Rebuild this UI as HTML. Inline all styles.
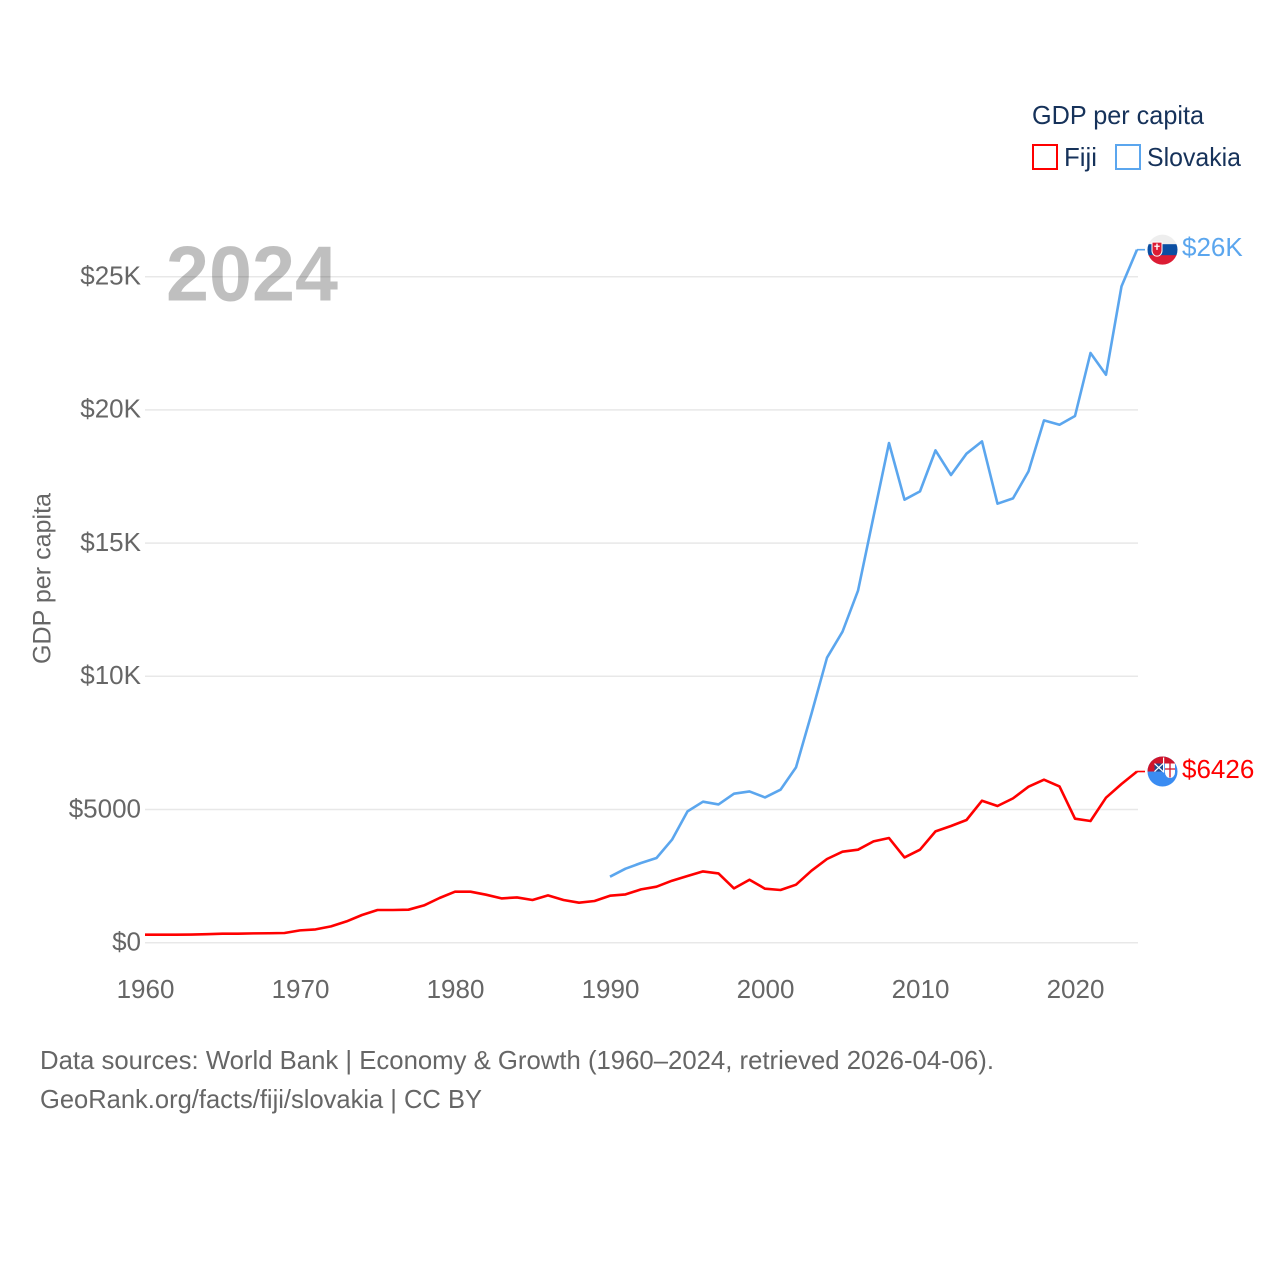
<!DOCTYPE html>
<html lang="en">
<head>
<meta charset="utf-8">
<title>GDP per capita: Fiji and Slovakia</title>
<style>
html,body{margin:0;padding:0;background:#fff;width:1280px;height:1280px;overflow:hidden}
svg{display:block}
text{font-family:"Liberation Sans",sans-serif}
</style>
</head>
<body>
<svg id="chart" xmlns="http://www.w3.org/2000/svg" width="1280" height="1280" viewBox="0 0 1280 1280">
<defs>
<clipPath id="flag-clip-slovakia"><circle id="clip-circle-slovakia" r="15"/></clipPath>
<clipPath id="flag-clip-fiji"><circle id="clip-circle-fiji" r="15"/></clipPath>
</defs>
<g id="grid"></g>
<text x="166" y="300.5" font-size="78" font-weight="700" fill="#000" fill-opacity="0.25" textLength="172" lengthAdjust="spacingAndGlyphs">2024</text>
<g id="y-ticks"></g>
<g id="x-ticks"></g>
<text transform="translate(50.5,578.5) rotate(-90)" text-anchor="middle" font-size="25" fill="#666" textLength="171" lengthAdjust="spacingAndGlyphs">GDP per capita</text>
<g id="series"></g>
<g id="end-markers"></g>

<text x="1032" y="124" font-size="26" fill="#16325a" textLength="172" lengthAdjust="spacingAndGlyphs">GDP per capita</text>
<g>
<rect x="1033" y="145" width="24" height="24" fill="#fff" stroke="#ff0000" stroke-width="2"/>
<text x="1064" y="166" font-size="26" fill="#16325a" textLength="33" lengthAdjust="spacingAndGlyphs">Fiji</text>
</g>
<g>
<rect x="1116" y="145" width="24" height="24" fill="#fff" stroke="#5ba6ee" stroke-width="2"/>
<text x="1147" y="166" font-size="26" fill="#16325a" textLength="94" lengthAdjust="spacingAndGlyphs">Slovakia</text>
</g>

<text x="40" y="1069" font-size="26" fill="#666" textLength="954" lengthAdjust="spacingAndGlyphs">Data sources: World Bank | Economy &amp; Growth (1960–2024, retrieved 2026-04-06).</text>
<text x="40" y="1108" font-size="26" fill="#666" textLength="442" lengthAdjust="spacingAndGlyphs">GeoRank.org/facts/fiji/slovakia | CC BY</text>
</svg>
<script>
const startYear = 1960;
const yTickValues = [0, 5000, 10000, 15000, 20000, 25000];
const yTickLabels = ['$0', '$5000', '$10K', '$15K', '$20K', '$25K'];
const xTickValues = [1960, 1970, 1980, 1990, 2000, 2010, 2020];
const fijiValues = [300,300,300,305,320,338,338,350,355,364,462,499,612,800,1040,1227,1227,1239,1400,1678,1914,1914,1802,1663,1700,1603,1776,1603,1502,1565,1764,1813,2001,2102,2327,2504,2676,2601,2038,2365,2027,1978,2177,2703,3142,3416,3491,3803,3930,3202,3491,4178,4381,4606,5330,5131,5417,5856,6119,5867,4655,4568,5443,5957,6426];
const slovakiaStartYear = 1990;
const slovakiaValues = [2477,2778,2992,3179,3866,4929,5293,5191,5593,5679,5454,5743,6580,8600,10698,11674,13213,15991,18757,16629,16941,18480,17556,18356,18818,16479,16678,17691,19606,19444,19771,22136,21321,24636,26014];
const fijiEndLabel = '$6426';
const slovakiaEndLabel = '$26K';

const NS = 'http://www.w3.org/2000/svg';
function xScale(year) { return 145 + (year - 1960) * 15.5; }
function yScale(value) { return 942.7 - value * 0.02664; }
function make(tag, attrs, parent) {
  const el = document.createElementNS(NS, tag);
  for (const k in attrs) el.setAttribute(k, attrs[k]);
  parent.appendChild(el);
  return el;
}
const grid = document.getElementById('grid');
const yTicks = document.getElementById('y-ticks');
const xTicks = document.getElementById('x-ticks');
const seriesGroup = document.getElementById('series');
const markers = document.getElementById('end-markers');

yTickValues.forEach(function (v, i) {
  const line = make('line', {x1: 145, x2: 1138, y1: yScale(v), y2: yScale(v), stroke: '#e8e8e8', 'stroke-width': 1.5}, grid);
  
  
  const label = make('text', {x: 141, y: yScale(v) + 7.8, 'text-anchor': 'end', 'font-size': 26, fill: '#666'}, yTicks);
  label.textContent = yTickLabels[i];
  
  
});

xTickValues.forEach(function (year) {
  const label = make('text', {x: xScale(year) + 0.5, y: 998, 'text-anchor': 'middle', 'font-size': 26, fill: '#666'}, xTicks);
  label.textContent = String(year);
  
  
});

function drawSeries(values, firstYear, color) {
  const pts = values.map(function (v, i) {
    return xScale(firstYear + i).toFixed(2) + ',' + yScale(v).toFixed(2);
  }).join(' ');
  return make('polyline', {points: pts, fill: 'none', stroke: color, 'stroke-width': 2.6, 'stroke-linejoin': 'round'}, seriesGroup);
}
const slovakiaLine = drawSeries(slovakiaValues, slovakiaStartYear, '#5ba6ee');


const fijiLine = drawSeries(fijiValues, startYear, '#ff0000');



function connector(value, color) {
  const y = yScale(value);
  return make('line', {x1: 1137, x2: 1145, y1: y, y2: y, stroke: color, 'stroke-width': 1.6}, markers);
}
function endLabel(value, text, color) {
  const el = make('text', {x: 1182, y: yScale(value) + 6.3, 'font-size': 26, fill: color}, markers);
  el.textContent = text;
  return el;
}
const cx = 1162.5;

/* Slovakia marker */
const skValue = slovakiaValues[slovakiaValues.length - 1];
const skY = yScale(skValue);
const skConn = connector(skValue, '#5ba6ee');


document.getElementById('clip-circle-slovakia').setAttribute('cx', cx);
document.getElementById('clip-circle-slovakia').setAttribute('cy', skY);
const skFlag = make('g', {'clip-path': 'url(#flag-clip-slovakia)'}, markers);


make('rect', {x: cx - 15, y: skY - 16, width: 30, height: 11, fill: '#eeeeee'}, skFlag);
make('rect', {x: cx - 15, y: skY - 5.5, width: 30, height: 11.5, fill: '#0b4ea2'}, skFlag);
make('rect', {x: cx - 15, y: skY + 5.5, width: 30, height: 11, fill: '#dc1c34'}, skFlag);
make('path', {d: 'M' + (cx - 11) + ' ' + (skY - 8) + 'h11v9a5.5 6 0 0 1 -11 0z', fill: '#fff'}, skFlag);
make('path', {d: 'M' + (cx - 10) + ' ' + (skY - 7) + 'h9v8a4.5 5 0 0 1 -9 0z', fill: '#dc1c34'}, skFlag);
make('path', {d: 'M' + (cx - 6.2) + ' ' + (skY - 6) + 'h1.4v2h2v1.2h-2v3h-1.4v-3h-2v-1.2h2z', fill: '#fff'}, skFlag);
const skLabel = endLabel(skValue, slovakiaEndLabel, '#5ba6ee');



/* Fiji marker */
const fjValue = fijiValues[fijiValues.length - 1];
const fjY = yScale(fjValue);
const fjConn = connector(fjValue, '#ff0000');


document.getElementById('clip-circle-fiji').setAttribute('cx', cx);
document.getElementById('clip-circle-fiji').setAttribute('cy', fjY);
const fjFlag = make('g', {'clip-path': 'url(#flag-clip-fiji)'}, markers);


make('rect', {x: cx - 15, y: fjY - 16, width: 30, height: 32, fill: '#3a8cf2'}, fjFlag);
make('rect', {x: cx - 15, y: fjY - 16, width: 15.5, height: 16, fill: '#cf142b'}, fjFlag);
make('rect', {x: cx, y: fjY - 16, width: 15, height: 8, fill: '#cf142b'}, fjFlag);
make('rect', {x: cx - 8, y: fjY - 8, width: 8.5, height: 8, fill: '#1f4b8f'}, fjFlag);
make('path', {d: 'M' + (cx - 8) + ' ' + (fjY - 8) + 'l8.5 8M' + (cx + 0.5) + ' ' + (fjY - 8) + 'l-8.5 8', stroke: '#fff', 'stroke-width': 1.2, fill: 'none'}, fjFlag);
make('rect', {x: cx + 0.5, y: fjY - 14, width: 1.2, height: 15, fill: '#fff'}, fjFlag);
make('path', {d: 'M' + (cx + 2.5) + ' ' + (fjY - 8) + 'h10v9a5 5.5 0 0 1 -10 0z', fill: '#fff'}, fjFlag);
make('path', {d: 'M' + (cx + 7.5) + ' ' + (fjY - 8) + 'v14M' + (cx + 2.5) + ' ' + (fjY - 2.5) + 'h10', stroke: '#cf142b', 'stroke-width': 1.3, fill: 'none'}, fjFlag);
const fjLabel = endLabel(fjValue, fijiEndLabel, '#ff0000');


</script>
</body>
</html>
